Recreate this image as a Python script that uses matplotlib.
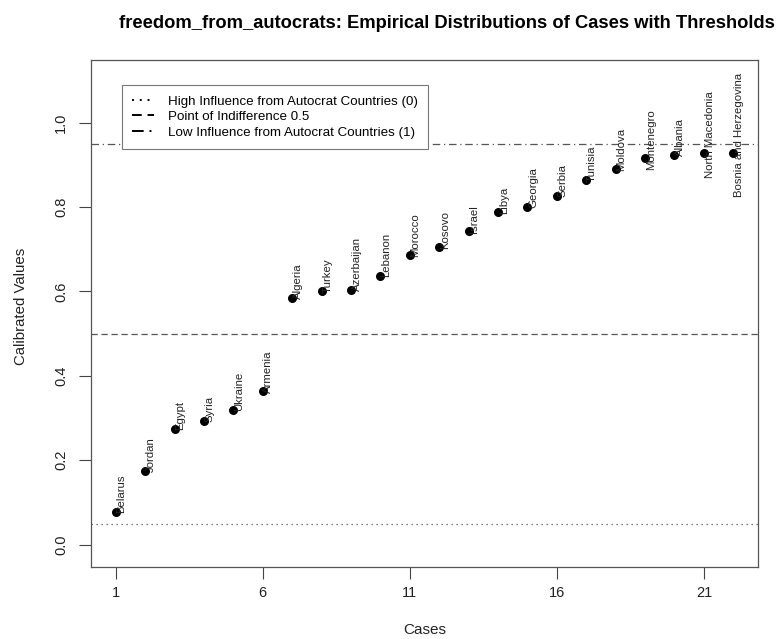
import matplotlib.pyplot as plt
from matplotlib.lines import Line2D

plt.rcParams['font.family'] = ['Liberation Sans', 'DejaVu Sans']

# calibrated set membership per case, sorted ascending
countries = ['Belarus', 'Jordan', 'Egypt', 'Syria', 'Ukraine', 'Armenia',
             'Algeria', 'Turkey', 'Azerbaijan', 'Lebanon', 'Morocco', 'Kosovo',
             'Israel', 'Libya', 'Georgia', 'Serbia', 'Tunisia', 'Moldova',
             'Montenegro', 'Albania', 'North Macedonia', 'Bosnia and Herzegovina']
values = [0.078, 0.175, 0.275, 0.294, 0.320, 0.363,
          0.585, 0.600, 0.604, 0.637, 0.685, 0.704,
          0.742, 0.787, 0.801, 0.827, 0.863, 0.889,
          0.917, 0.924, 0.929, 0.929]
thresholds = [0.05, 0.5, 0.95]
threshold_labels = ['High Influence from Autocrat Countries (0)',
                    'Point of Indifference 0.5',
                    'Low Influence from Autocrat Countries (1)']
x_ticks = [1, 6, 11, 16, 21]
y_ticks = [0.0, 0.2, 0.4, 0.6, 0.8, 1.0]

cases = list(range(1, len(values) + 1))

fig = plt.figure(figsize=(7.8, 6.39), dpi=100)
ax = fig.add_axes([0.1167, 0.1127, 0.8551, 0.7933])

ax.scatter(cases, values, s=30, color='black', zorder=3)

# long names near the top frame get pushed down so they stay inside the box
label_drop = {'Montenegro': 8, 'North Macedonia': 17.5, 'Bosnia and Herzegovina': 31}
for x, y, name in zip(cases, values, countries):
    dy = -1 - label_drop.get(name, 0)
    ax.annotate(name, (x, y), textcoords='offset points', xytext=(0.5, dy),
                rotation=90, ha='left', va='bottom', fontsize=8.2, color='#222222')

styles = [(0, (1, 3)), (0, (5, 3)), (0, (6, 3, 1, 3))]
for t, ls in zip(thresholds, styles):
    ax.axhline(t, color='#555555', lw=0.9, linestyle=ls, zorder=1)

ax.set_xlim(0.16, 22.84)
ax.set_ylim(-0.053, 1.148)
ax.set_xticks(x_ticks)
ax.set_yticks(y_ticks)
ax.set_yticklabels([f'{v:.1f}' for v in y_ticks], rotation=90, va='center')
ax.tick_params(direction='out', length=8.5, width=0.8, color='#444444',
               labelsize=10.5, labelcolor='#222222')
ax.tick_params(axis='x', pad=5)
ax.tick_params(axis='y', pad=8)
for s in ax.spines.values():
    s.set_color('#555555')
    s.set_linewidth(0.9)

ax.set_xlabel('Cases', fontsize=11, labelpad=17, color='#222222')
ax.set_ylabel('Calibrated Values', fontsize=10.8, color='#222222', va='center')
ax.yaxis.set_label_coords(-0.105, 0.514)
fig.text(0.573, 0.963, 'freedom_from_autocrats: Empirical Distributions of Cases with Thresholds',
         ha='center', va='center', fontsize=13.2, fontweight='bold')

handles = [Line2D([0], [0], color='black', lw=1.4, linestyle=ls) for ls in styles]
leg = ax.legend(handles, threshold_labels, loc='upper left',
                bbox_to_anchor=(0.046, 0.95), fontsize=9.6, frameon=True,
                fancybox=False, framealpha=1, handlelength=1.7, borderpad=0.75,
                labelspacing=0.23, handletextpad=1.0, borderaxespad=0)
leg.get_frame().set_edgecolor('#777777')
leg.get_frame().set_linewidth(0.8)

fig.savefig('out.png', dpi=100)
